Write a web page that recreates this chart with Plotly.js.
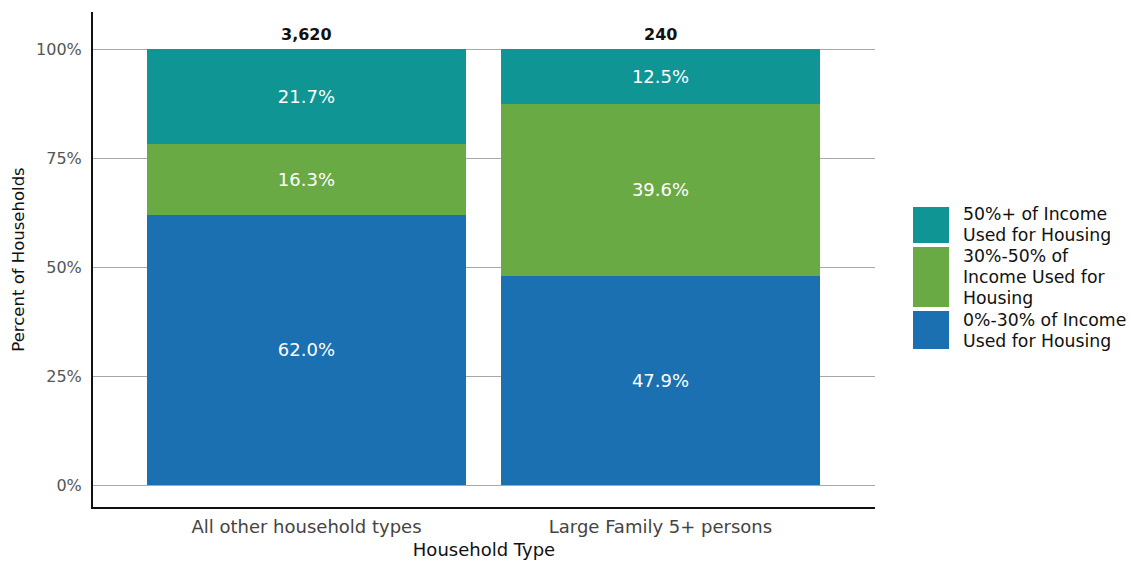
<!DOCTYPE html>
<html>
<head>
<meta charset="utf-8">
<script src="https://cdn.plot.ly/plotly-3.0.1.min.js"></script>
<style>html,body{margin:0;padding:0;background:#fff;}#chart{width:1130px;height:567px;}</style>
</head>
<body>
<div id="chart"></div>
<script>
var categories = ["All other household types", "Large Family 5+ persons"];
var totals = ["3,620", "240"];
var seriesNames = ["0%-30% of Income<br>Used for Housing", "30%-50% of<br>Income Used for<br>Housing", "50%+ of Income<br>Used for Housing"];
var low = [0.620, 0.479];
var mid = [0.163, 0.396];
var high = [0.217, 0.125];
var colors = ["#1a70b0", "#6aaa44", "#109595"];

var FONT = "DejaVu Sans, sans-serif";
var series = [low, mid, high];
var traces = series.map(function (vals, i) {
  return {
    type: "bar",
    x: categories,
    y: vals,
    name: seriesNames[i],
    marker: {color: colors[i], line: {width: 0}},
    text: vals.map(function (v) { return (v * 100).toFixed(1) + "%"; }),
    textposition: "inside",
    insidetextanchor: "middle",
    textangle: 0,
    textfont: {family: FONT, size: 18, color: "#ffffff"},
    hoverinfo: "none",
    showlegend: false
  };
});

var annotations = categories.map(function (c, i) {
  return {
    x: c, y: 1, xref: "x", yref: "y", yanchor: "bottom", yshift: 3,
    text: "<b>" + totals[i] + "</b>", showarrow: false,
    font: {family: FONT, size: 16, color: "#111"}
  };
});

// manual legend (top-down order: high, mid, low)
var PW = 782, PH = 495, L = 93, B = 507;
var legendOrder = [2, 1, 0];
var boxes = [[207, 243], [247, 307], [311, 349]];
var shapes = [];
var line = 0;
legendOrder.forEach(function (si, k) {
  var y0 = boxes[k][0], y1 = boxes[k][1];
  shapes.push({
    type: "rect", xref: "paper", yref: "paper",
    x0: (913 - L) / PW, x1: (949 - L) / PW,
    y0: (B - y1) / PH, y1: (B - y0) / PH,
    fillcolor: colors[si], line: {width: 0}
  });
  seriesNames[si].split("<br>").forEach(function (t) {
    var cy = 214 + 21.1 * line;
    annotations.push({
      xref: "paper", yref: "paper",
      x: (961 - L) / PW, y: (B - cy) / PH,
      xanchor: "left", yanchor: "middle", align: "left",
      text: t, showarrow: false,
      font: {family: FONT, size: 17.3, color: "#111"}
    });
    line++;
  });
});

var layout = {
  width: 1130, height: 567,
  margin: {l: 93, r: 255, t: 12, b: 60, pad: 0},
  paper_bgcolor: "#fff", plot_bgcolor: "#fff",
  barmode: "stack", bargap: 0.1,
  showlegend: false,
  xaxis: {
    range: [-0.603, 1.606],
    showline: true, linecolor: "#111", linewidth: 2,
    showgrid: false, ticks: "", ticklabelstandoff: 2,
    tickfont: {family: FONT, size: 18, color: "#444"},
    title: {text: "Household Type", font: {family: FONT, size: 18, color: "#111"}, standoff: 8}
  },
  yaxis: {
    range: [-0.05, 1.085],
    tickvals: [0, 0.25, 0.5, 0.75, 1],
    ticktext: ["0%", "25%", "50%", "75%", "100%"],
    showline: true, linecolor: "#111", linewidth: 2,
    showgrid: true, gridcolor: "#a8a8a8", gridwidth: 1,
    zeroline: false, ticks: "", ticklabelstandoff: 6,
    tickfont: {family: FONT, size: 16, color: "#555"},
    title: {text: "Percent of Households", font: {family: FONT, size: 16.5, color: "#111"}, standoff: 7}
  },
  annotations: annotations,
  shapes: shapes
};

Plotly.newPlot("chart", traces, layout, {displayModeBar: false, staticPlot: true});
</script>
</body>
</html>
